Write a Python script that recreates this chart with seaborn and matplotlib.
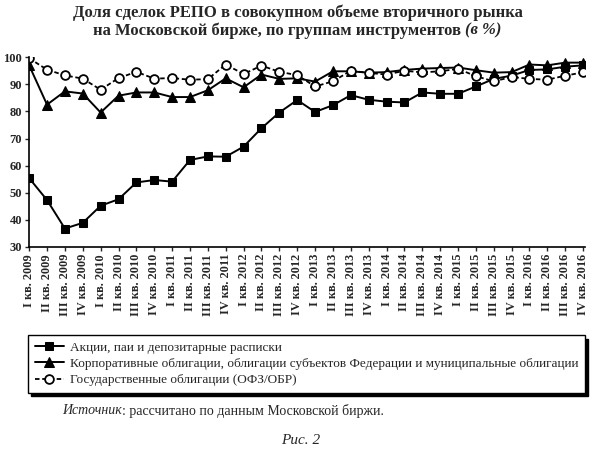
import numpy as np
import pandas as pd
import seaborn as sns
import matplotlib.pyplot as plt

# quarters I 2009 .. IV 2016
roman = ['I', 'II', 'III', 'IV']
years = list(range(2009, 2017))
quarters = [f'{q} кв. {y}' for y in years for q in roman]

stocks = [55.4, 47.3, 36.8, 38.9, 45.2, 47.6, 53.8, 54.7, 54.1, 62.1, 63.4, 63.3,
          67.0, 73.8, 79.6, 84.2, 79.8, 82.3, 86.0, 84.3, 83.6, 83.3, 87.0, 86.5,
          86.5, 89.2, 92.0, 93.2, 95.3, 95.5, 96.5, 97.0]
corp = [97.0, 82.5, 87.4, 86.6, 79.6, 85.8, 87.0, 87.0, 85.3, 85.3, 87.8, 92.2,
        88.9, 93.6, 92.0, 92.2, 91.0, 94.8, 94.8, 94.3, 94.5, 95.3, 95.8, 96.0,
        96.2, 95.2, 94.3, 94.5, 97.3, 97.0, 98.0, 98.0]
gov = [99.6, 95.4, 93.3, 92.1, 88.0, 92.3, 94.6, 92.1, 92.3, 91.7, 91.9, 97.3,
       93.8, 96.9, 94.6, 93.4, 89.2, 91.1, 95.0, 94.2, 93.6, 95.0, 94.4, 94.8,
       95.7, 93.0, 91.1, 92.7, 92.0, 91.7, 93.2, 94.4]

names = ['Акции, паи и депозитарные расписки',
         'Корпоративные облигации, облигации субъектов Федерации и муниципальные облигации',
         'Государственные облигации (ОФЗ/ОБР)']

sns.set_style('ticks')
plt.rcParams['font.family'] = ['Liberation Serif', 'DejaVu Serif']

fig = plt.figure(figsize=(5.95, 4.54), dpi=100)
ax = fig.add_axes([0.049, 0.456, 0.934, 0.418])

x = np.arange(len(quarters))
df = pd.DataFrame({'q': x, 'stocks': stocks, 'corp': corp, 'gov': gov})

sns.lineplot(data=df, x='q', y='stocks', ax=ax, color='black', lw=1.4,
             marker='s', markersize=6.3, markeredgecolor='black', label=names[0])
sns.lineplot(data=df, x='q', y='corp', ax=ax, color='black', lw=1.4,
             marker='^', markersize=7.3, markeredgecolor='black', label=names[1])
sns.lineplot(data=df, x='q', y='gov', ax=ax, color='black', lw=1.3, linestyle=(0, (2.5, 1.5)),
             marker='o', markersize=6.3, markerfacecolor='white', markeredgecolor='black',
             markeredgewidth=1.3, label=names[2])

ax.set_xlim(0, 31.1)
ax.set_ylim(30, 100)
ax.set_yticks(range(30, 101, 10))
ax.set_xticks(x)
ax.set_xticklabels(quarters, rotation=90, fontsize=8.8, fontweight='bold')
ax.tick_params(axis='y', labelsize=9, length=3, width=1, pad=2)
ax.tick_params(axis='x', length=3, width=1, pad=2)
for lab in ax.get_yticklabels():
    lab.set_fontweight('bold')
ax.set_xlabel('')
ax.set_ylabel('')
for s in ['top', 'right']:
    ax.spines[s].set_visible(False)
for s in ['left', 'bottom']:
    ax.spines[s].set_linewidth(1.2)
    ax.spines[s].set_color('black')

ax.get_legend().remove()
handles, labels = ax.get_legend_handles_labels()
leg = fig.legend(handles, labels, loc='upper left', bbox_to_anchor=(0.047, 0.135, 0.936, 0.127),
                 mode='expand', ncol=1, fontsize=9.5, frameon=True, fancybox=False,
                 shadow={'color': 'black', 'alpha': 1, 'ox': 2.5, 'oy': -2.5},
                 handlelength=2.2, handletextpad=0.5, borderaxespad=0,
                 labelspacing=0.3, borderpad=0.5)
leg.get_frame().set_edgecolor('black')
leg.get_frame().set_linewidth(1.0)

renderer = fig.canvas.get_renderer()

# title
fig.text(0.5, 0.99, 'Доля сделок РЕПО в совокупном объеме вторичного рынка',
         ha='center', va='top', fontsize=12, fontweight='bold')
t2 = fig.text(0.5, 0.95, 'на Московской бирже, по группам инструментов ',
              ha='center', va='top', fontsize=12, fontweight='bold')
t3 = fig.text(0.5, 0.95, '(в %)', ha='left', va='top', fontsize=12,
              fontweight='bold', style='italic')
w2 = t2.get_window_extent(renderer).width / fig.bbox.width
w3 = t3.get_window_extent(renderer).width / fig.bbox.width
t2.set_x(0.5 - (w2 + w3) / 2 + w2 / 2)
t3.set_x(0.5 - (w2 + w3) / 2 + w2)

# source
s1 = fig.text(0.104, 0.095, 'Источник', ha='left', va='center', fontsize=10, style='italic')
ws = s1.get_window_extent(renderer).width / fig.bbox.width
fig.text(0.104 + ws, 0.095, ': рассчитано по данным Московской биржи.',
         ha='left', va='center', fontsize=10)
fig.text(0.505, 0.03, 'Рис. 2', ha='center', va='center', fontsize=11, style='italic')

fig.savefig('out.png', dpi=100)
